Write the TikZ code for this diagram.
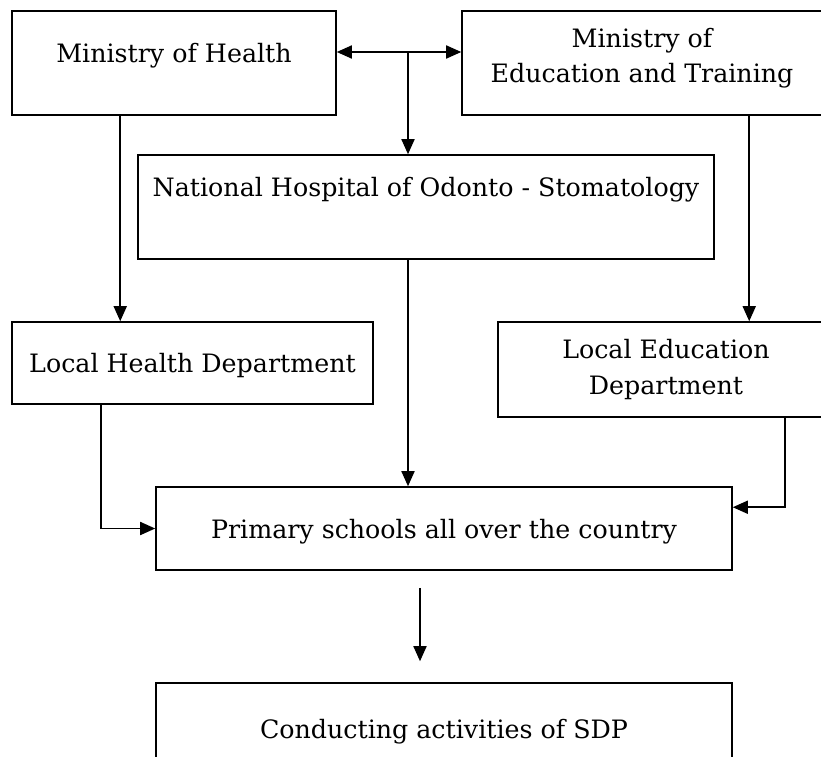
\documentclass[tikz,border=0pt]{standalone}
\usepackage{fontspec}
\setmainfont{DejaVu Serif}
\usetikzlibrary{arrows.meta,calc}

\tikzset{
  box/.style={draw, line width=1.1pt, rectangle, align=center, inner sep=0pt,
    font=\fontsize{18}{25}\selectfont},
  lift/.style={text depth=#1},
  arr/.style={line width=1.1pt, -{Triangle[length=0.38cm,width=0.33cm]}}
}

\begin{document}
\begin{tikzpicture}[x=0.025cm,y=-0.025cm]
  \useasboundingbox (0,0) rectangle (821,756);
  % ministries
  \node[box, lift=13.7pt, minimum width=324*0.025cm, minimum height=104*0.025cm] (moh) at (174,63) {Ministry of Health};
  \node[box, lift=11pt, minimum width=360*0.025cm, minimum height=104*0.025cm] (moet) at (642,63) {Ministry of\\Education and Training};
  % hospital
  \node[box, lift=29pt, minimum width=576*0.025cm, minimum height=104*0.025cm] (nat) at (426,207) {National Hospital of Odonto - Stomatology};
  % local departments
  \node[box, lift=0pt, minimum width=361*0.025cm, minimum height=82*0.025cm] (lhd) at (192.5,363) {Local Health Department};
  \node[box, minimum width=336*0.025cm, minimum height=95*0.025cm] (led) at (666,369.5) {Local Education\\Department};
  % schools
  \node[box, lift=0pt, minimum width=576*0.025cm, minimum height=83*0.025cm] (prim) at (444,528.5) {Primary schools all over the country};
  \node[box, lift=0pt, minimum width=576*0.025cm, minimum height=92*0.025cm] (cond) at (444,729) {Conducting activities of SDP};

  % connectors
  \coordinate (hub) at (408,52);
  \draw[arr] (hub) -- (hub -| moh.east);
  \draw[arr] (hub) -- (hub -| moet.west);
  \draw[arr] (hub) -- (hub |- nat.north);
  \draw[arr] ($(moh.south west)+(109,0)$) -- ($(lhd.north west)+(109,0)$);
  \draw[arr] ($(led.north west)+(252,-207)$) -- ($(led.north west)+(252,0)$);
  \draw[arr] (nat.south -| hub) -- (prim.north -| hub);
  \draw[arr] ($(lhd.south west)+(90,0)$) |- (prim.west);
  \draw[arr] ($(led.south west)+(288,0)$) |- ($(prim.north east)+(0,21)$);
  \draw[arr] ($(prim.south)+(-24,17)$) -- ($(cond.north)+(-24,-21)$);
\end{tikzpicture}
\end{document}
